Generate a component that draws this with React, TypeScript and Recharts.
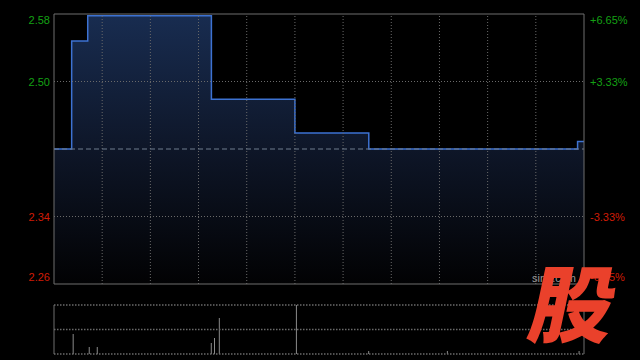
import React from 'react';
import { ComposedChart, Area, XAxis, YAxis, ReferenceLine, BarChart, Bar } from 'recharts';

// Intraday price (minutes since open, step changes)
const priceTimes = [0, 11, 21, 98, 150, 196, 326, 330];
const priceValues = [2.42, 2.548, 2.578, 2.479, 2.439, 2.42, 2.429, 2.429];

// Volume bars (minutes since open, thousand shares)
const volTimes = [12, 22, 27, 98, 100, 103, 151, 196, 245, 327];
const volValues = [200, 70, 70, 110, 160, 360, 490, 30, 30, 30];

const prevClose = 2.42;
const priceTicks = [2.58, 2.5, 2.34, 2.26];
const pctLabels = ['+6.65%', '+3.33%', '-3.33%', '-6.65%'];
const gridTimes = [30, 60, 90, 120, 150, 180, 210, 240, 270, 300];
const gridPrices = [2.5, 2.34];
const dayMinutes = 330;
const volMax = 490;

const priceData = priceTimes.map((t, i) => ({ t, price: priceValues[i] }));
const volData = volTimes.map((t, i) => ({ t, vol: volValues[i] }));

const GREEN = '#14a014';
const RED = '#d01c06';
const FONT = '"Liberation Sans", Arial, sans-serif';

const tickShift = (v: number) => (v === priceTicks[0] ? 6 : v === priceTicks[priceTicks.length - 1] ? -7 : 0);

const LeftTick = (props: any) => {
  const { x, y, payload } = props;
  const v = payload.value as number;
  return (
    <text x={x} y={y + tickShift(v)} dy={4} textAnchor="end" fill={v > prevClose ? GREEN : RED} fontSize={11} fontFamily={FONT}>
      {v.toFixed(2)}
    </text>
  );
};

const RightTick = (props: any) => {
  const { x, y, payload } = props;
  const v = payload.value as number;
  const idx = priceTicks.indexOf(v);
  return (
    <text x={x} y={y + tickShift(v)} dy={4} textAnchor="start" fill={v > prevClose ? GREEN : RED} fontSize={11} fontFamily={FONT}>
      {pctLabels[idx]}
    </text>
  );
};

const GRID = '#6a6a6a';
const FRAME = '#6e6e6e';

export default function App() {
  return (
    <div style={{ position: 'fixed', left: 0, top: 0, width: 640, height: 360, background: '#000', overflow: 'hidden' }}>
      <div style={{ position: 'absolute', left: 0, top: 0 }}>
        <ComposedChart width={640} height={290} data={priceData} margin={{ top: 14, right: 0, bottom: 6, left: 0 }}>
          <defs>
            <linearGradient id="pg" x1="0" y1="0" x2="0" y2="1">
              <stop offset="0%" stopColor="#182c50" />
              <stop offset="50%" stopColor="#0e1628" />
              <stop offset="100%" stopColor="#020203" />
            </linearGradient>
          </defs>
          <XAxis dataKey="t" type="number" domain={[0, dayMinutes]} hide />
          <YAxis yAxisId="l" orientation="left" width={54} domain={[priceTicks[3], priceTicks[0]]} ticks={priceTicks}
            axisLine={false} tickLine={false} tickSize={0} tickMargin={4} tick={<LeftTick />} allowDataOverflow interval={0} />
          <YAxis yAxisId="r" orientation="right" width={56} domain={[priceTicks[3], priceTicks[0]]} ticks={priceTicks}
            axisLine={false} tickLine={false} tickSize={0} tickMargin={6} tick={<RightTick />} allowDataOverflow interval={0} />
          <Area yAxisId="l" type="stepAfter" dataKey="price" stroke="#3d72d2" strokeWidth={1.5} fill="url(#pg)" fillOpacity={1}
            isAnimationActive={false} dot={false} activeDot={false} baseValue={priceTicks[3]} />
          {gridPrices.map((p) => (
            <ReferenceLine key={'hp' + p} yAxisId="l" y={p} stroke={GRID} strokeDasharray="1 2" />
          ))}
          {gridTimes.map((t) => (
            <ReferenceLine key={'vt' + t} yAxisId="l" x={t} stroke={GRID} strokeDasharray="1 2" />
          ))}
          <ReferenceLine yAxisId="l" y={prevClose} stroke="#6f7c8e" strokeDasharray="5 3" />
          <ReferenceLine yAxisId="l" y={priceTicks[0]} stroke={FRAME} />
          <ReferenceLine yAxisId="l" y={priceTicks[3]} stroke={FRAME} />
          <ReferenceLine yAxisId="l" x={0} stroke={FRAME} />
          <ReferenceLine yAxisId="l" x={dayMinutes} stroke={FRAME} />
        </ComposedChart>
      </div>
      <div style={{ position: 'absolute', left: 0, top: 290 }}>
        <BarChart width={640} height={70} data={volData} margin={{ top: 15, right: 56, bottom: 6, left: 54 }}>
          <XAxis dataKey="t" type="number" domain={[0, dayMinutes]} hide />
          <YAxis domain={[0, volMax]} hide allowDataOverflow />
          <ReferenceLine y={volMax} stroke={GRID} strokeWidth={1.5} strokeDasharray="1.5 1.5" />
          <ReferenceLine y={volMax / 2} stroke={GRID} strokeWidth={1.5} strokeDasharray="1.5 1.5" />
          <ReferenceLine y={0} stroke={GRID} strokeWidth={1.5} strokeDasharray="1.5 1.5" />
          <ReferenceLine x={0} stroke={FRAME} />
          <ReferenceLine x={dayMinutes} stroke={FRAME} />
          <Bar dataKey="vol" fill="#8a8a8a" barSize={1} isAnimationActive={false} />
        </BarChart>
      </div>
      <div style={{ position: 'absolute', left: 532, top: 272, color: '#9a9a9a', fontSize: 11, fontFamily: FONT }}>sina.com</div>
      <div style={{
        position: 'absolute', left: 522, top: 250, color: '#ea412b', fontSize: 84, fontWeight: 900, lineHeight: '100px',
        fontFamily: '"Noto Sans CJK SC", sans-serif', transform: 'skewX(-12deg)', transformOrigin: 'left bottom',
      }}>股</div>
    </div>
  );
}
